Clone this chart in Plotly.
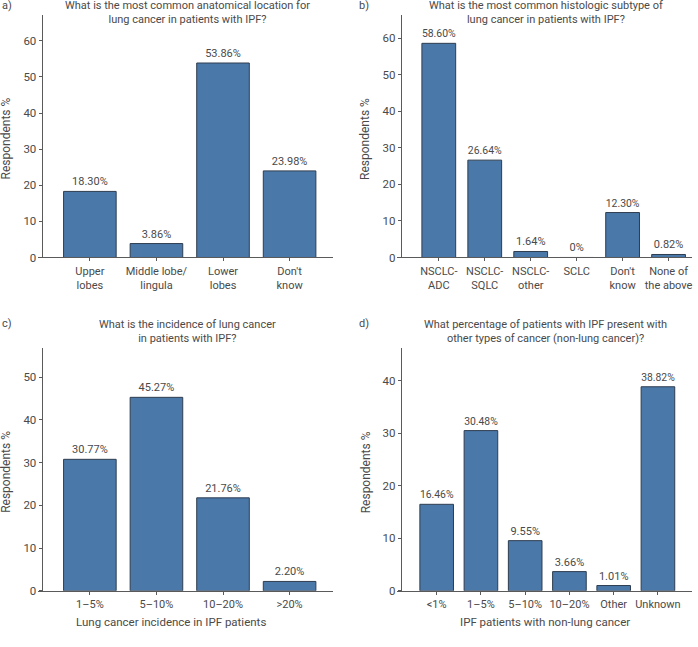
import plotly.graph_objects as go

# a) anatomical location
loc_cats = ["Upper<br>lobes", "Middle lobe/<br>lingula", "Lower<br>lobes", "Don't<br>know"]
loc_vals = [18.30, 3.86, 53.86, 23.98]

# b) histologic subtype
hist_cats = ["NSCLC-<br>ADC", "NSCLC-<br>SQLC", "NSCLC-<br>other", "SCLC", "Don't<br>know", "None of<br>the above"]
hist_vals = [58.60, 26.64, 1.64, 0.0, 12.30, 0.82]

# c) incidence of lung cancer
inc_cats = ["1–5%", "5–10%", "10–20%", ">20%"]
inc_vals = [30.77, 45.27, 21.76, 2.20]

# d) other cancers
oth_cats = ["<1%", "1–5%", "5–10%", "10–20%", "Other", "Unknown"]
oth_vals = [16.46, 30.48, 9.55, 3.66, 1.01, 38.82]

W, H = 698, 647
FONT = "Roboto, 'DejaVu Sans', sans-serif"
TXT = "#4a4a4a"
AXC = "#5a5a5a"
BAR = "#4a78a9"
EDGE = "#2e3d4f"


def px(x):
    return x / W


def py(y):
    return 1 - y / H


def lbl(v):
    return "0%" if v == 0 else f"{v:.2f}%"


panels = [
    # cats, vals, x-pixel domain, y-pixel domain (bottom, top), xrange, yrange, yaxis x, bar width
    (loc_cats, loc_vals, (38, 333), (260.3, 15), [-0.78, 3.645], [0, 67.2], 41.7, 0.79),
    (hist_cats, hist_vals, (398, 693), (260.3, 15), [-0.9, 5.51], [0, 66.4], 401.3, 0.735),
    (inc_cats, inc_vals, (38, 333), (597.3, 352.3), [-0.78, 3.645], [0, 56.7], 41.7, 0.79),
    (oth_cats, oth_vals, (398, 693), (597.3, 352.3), [-0.887, 5.77], [0, 46.1], 401.3, 0.76),
]

fig = go.Figure()
layout = {}
for i, (cats, vals, xd, yd, xr, yr, yx, bw) in enumerate(panels, start=1):
    sfx = "" if i == 1 else str(i)
    fig.add_trace(
        go.Bar(
            x=list(range(len(cats))),
            y=vals,
            width=bw,
            marker=dict(color=BAR, line=dict(color=EDGE, width=1)),
            text=[lbl(v) for v in vals],
            textposition="outside",
            textfont=dict(family=FONT, size=11, color=TXT),
            cliponaxis=False,
            xaxis="x" + sfx,
            yaxis="y" + sfx,
            showlegend=False,
        )
    )
    layout["xaxis" + sfx] = dict(
        domain=[px(xd[0]), px(xd[1])],
        anchor="y" + sfx,
        range=xr,
        tickmode="array",
        tickvals=list(range(len(cats))),
        ticktext=cats,
        ticks="outside",
        ticklen=3,
        tickcolor=AXC,
        showline=True,
        linecolor=AXC,
        linewidth=1,
        showgrid=False,
        zeroline=False,
        tickfont=dict(family=FONT, size=11, color=TXT),
        fixedrange=True,
    )
    layout["yaxis" + sfx] = dict(
        domain=[py(yd[0]), py(yd[1])],
        anchor="free",
        position=px(yx),
        range=yr,
        dtick=10,
        ticks="outside",
        ticklen=3,
        tickcolor=AXC,
        showline=True,
        linecolor=AXC,
        linewidth=1,
        showgrid=False,
        zeroline=False,
        tickfont=dict(family=FONT, size=11.5, color=TXT),
        fixedrange=True,
    )

annotations = []


def note(text, x, y, size=11, angle=0, xanchor="center"):
    annotations.append(
        dict(
            text=text, x=px(x), y=py(y), xref="paper", yref="paper",
            showarrow=False, textangle=angle, xanchor=xanchor, yanchor="middle",
            font=dict(family=FONT, size=size, color=TXT),
        )
    )


# panel letters
note("a)", 0, 6, xanchor="left")
note("b)", 358, 6, xanchor="left")
note("c)", 0, 327, xanchor="left")
note("d)", 358, 327, xanchor="left")

# titles
note("What is the most common anatomical location for<br>lung cancer in patients with IPF?", 188, 13)
note("What is the most common histologic subtype of<br>lung cancer in patients with IPF?", 547, 13)
note("What is the incidence of lung cancer<br>in patients with IPF?", 188, 335)
note("What percentage of patients with IPF present with<br>other types of cancer (non-lung cancer)?", 546, 335)

# y-axis titles
note("Respondents %", 6, 140, size=12, angle=-90)
note("Respondents %", 366, 140, size=12, angle=-90)
note("Respondents %", 6, 477, size=12, angle=-90)
note("Respondents %", 366, 477, size=12, angle=-90)

# x-axis titles
note("Lung cancer incidence in IPF patients", 171, 629, size=11.5)
note("IPF patients with non-lung cancer", 546, 629, size=11.5)

fig.update_layout(
    width=W,
    height=H,
    margin=dict(l=0, r=0, t=0, b=0),
    paper_bgcolor="white",
    plot_bgcolor="white",
    font=dict(family=FONT, size=11, color=TXT),
    annotations=annotations,
    **layout,
)

# drop the default page margin so the figure sits at the window's corner
fig.write_html(
    "out.html",
    config={"displayModeBar": False},
    post_script="document.body.style.margin='0';",
)
